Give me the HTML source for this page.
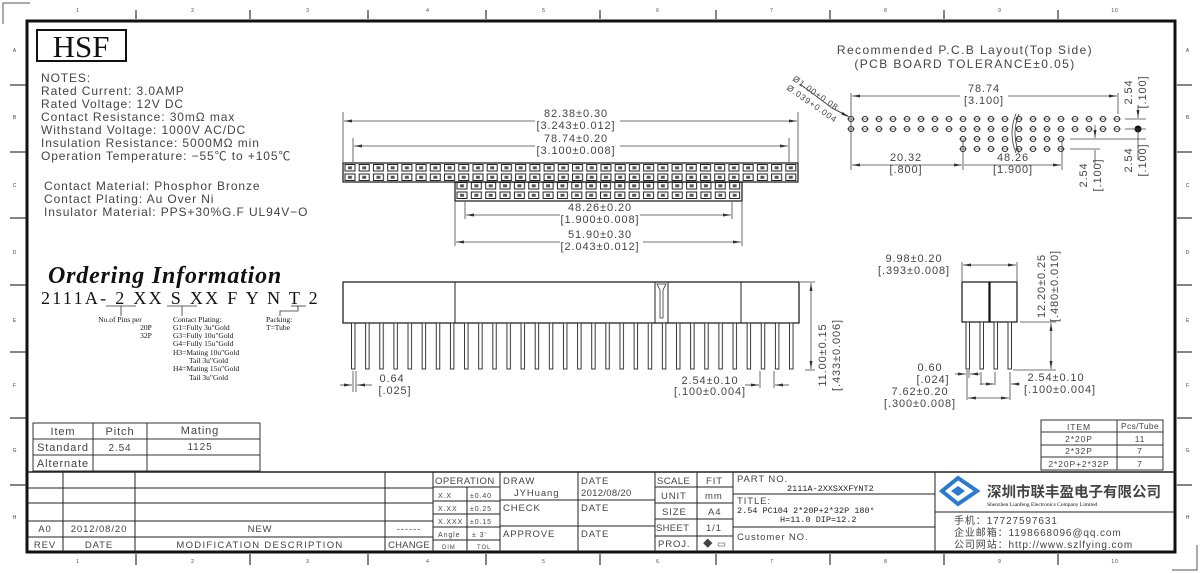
<!DOCTYPE html>
<html><head><meta charset="utf-8"><style>
html,body{margin:0;padding:0;background:#fff;}
svg{display:block;}
text{font-family:"Liberation Sans","Noto Sans CJK SC",sans-serif;fill:#444;letter-spacing:0.9px;}
.s{font-family:"Liberation Serif","Noto Serif CJK SC",serif;fill:#111;letter-spacing:0;}
.m{font-family:"Liberation Mono","Noto Sans CJK SC",monospace;fill:#222;letter-spacing:0;}
</style></head><body>
<svg width="1200" height="573" viewBox="0 0 1200 573" xmlns="http://www.w3.org/2000/svg">
<defs>
<pattern id="sq" x="343" y="163" width="14.22" height="9.5" patternUnits="userSpaceOnUse">
<rect x="2" y="1.5" width="10" height="6.5" fill="none" stroke="#222" stroke-width="1"/>
<rect x="5" y="3.3" width="4" height="3" fill="#555"/>
</pattern>
<pattern id="sq2" x="455" y="181" width="14.35" height="9.5" patternUnits="userSpaceOnUse">
<rect x="2" y="1.5" width="10" height="6.5" fill="none" stroke="#222" stroke-width="1"/>
<rect x="5" y="3.3" width="4" height="3" fill="#555"/>
</pattern>
<pattern id="pin" x="351" y="323" width="14.13" height="60" patternUnits="userSpaceOnUse">
<rect x="0.5" y="0" width="3.5" height="46" fill="#fff" stroke="#222" stroke-width="0.9"/>
</pattern>
<pattern id="hole" x="844" y="114" width="14" height="10" patternUnits="userSpaceOnUse">
<circle cx="7" cy="5" r="2.6" fill="none" stroke="#333" stroke-width="1"/>
<line x1="3" y1="5" x2="11" y2="5" stroke="#333" stroke-width="0.6"/>
</pattern>
<marker id="a" markerWidth="8" markerHeight="6" refX="8" refY="3" orient="auto-start-reverse" markerUnits="userSpaceOnUse"><path d="M0,1.5 L8,3 L0,4.5z" fill="#333"/></marker>
</defs>

<path d="M3,24 V3 H30 M1172,570 H1197 V545" fill="none" stroke="#555" stroke-width="1"/>
<rect x="27" y="21" width="1148" height="531" fill="none" stroke="#111" stroke-width="3"/>
<g stroke="#333" stroke-width="1.2">
<line x1="136" y1="10" x2="136" y2="19"/><line x1="250" y1="10" x2="250" y2="19"/><line x1="368" y1="10" x2="368" y2="19"/><line x1="486" y1="10" x2="486" y2="19"/><line x1="600" y1="10" x2="600" y2="19"/><line x1="716" y1="10" x2="716" y2="19"/><line x1="830" y1="10" x2="830" y2="19"/><line x1="944" y1="10" x2="944" y2="19"/><line x1="1058" y1="10" x2="1058" y2="19"/>
<line x1="136" y1="554" x2="136" y2="565"/><line x1="250" y1="554" x2="250" y2="565"/><line x1="368" y1="554" x2="368" y2="565"/><line x1="486" y1="554" x2="486" y2="565"/><line x1="600" y1="554" x2="600" y2="565"/><line x1="716" y1="554" x2="716" y2="565"/><line x1="830" y1="554" x2="830" y2="565"/><line x1="944" y1="554" x2="944" y2="565"/><line x1="1058" y1="554" x2="1058" y2="565"/>
<line x1="10" y1="85" x2="26" y2="85"/><line x1="10" y1="152" x2="26" y2="152"/><line x1="10" y1="218" x2="26" y2="218"/><line x1="10" y1="285" x2="26" y2="285"/><line x1="10" y1="352" x2="26" y2="352"/><line x1="10" y1="418" x2="26" y2="418"/><line x1="10" y1="485" x2="26" y2="485"/>
<line x1="1177" y1="85" x2="1192" y2="85"/><line x1="1177" y1="152" x2="1192" y2="152"/><line x1="1177" y1="218" x2="1192" y2="218"/><line x1="1177" y1="285" x2="1192" y2="285"/><line x1="1177" y1="352" x2="1192" y2="352"/><line x1="1177" y1="418" x2="1192" y2="418"/><line x1="1177" y1="485" x2="1192" y2="485"/>
</g>
<g font-size="5" text-anchor="middle">
<text x="78" y="12">1</text><text x="193" y="12">2</text><text x="308" y="12">3</text><text x="428" y="12">4</text><text x="544" y="12">5</text><text x="658" y="12">6</text><text x="772" y="12">7</text><text x="886" y="12">8</text><text x="1000" y="12">9</text><text x="1115" y="12">10</text>
<text x="78" y="563">1</text><text x="193" y="563">2</text><text x="308" y="563">3</text><text x="428" y="563">4</text><text x="544" y="563">5</text><text x="658" y="563">6</text><text x="772" y="563">7</text><text x="886" y="563">8</text><text x="1000" y="563">9</text><text x="1115" y="563">10</text>
<text x="15" y="52">A</text><text x="15" y="119">B</text><text x="15" y="187">C</text><text x="15" y="254">D</text><text x="15" y="322">E</text><text x="15" y="387">F</text><text x="15" y="452">G</text><text x="15" y="519">H</text>
<text x="1188" y="52">A</text><text x="1188" y="119">B</text><text x="1188" y="187">C</text><text x="1188" y="254">D</text><text x="1188" y="322">E</text><text x="1188" y="387">F</text><text x="1188" y="452">G</text><text x="1188" y="519">H</text>
</g>

<rect x="37" y="30" width="89" height="31" fill="none" stroke="#111" stroke-width="2"/>
<text class="s" x="81" y="57" font-size="31" text-anchor="middle">HSF</text>

<g font-size="12" fill="#444" style="letter-spacing:1.15px">
<text x="41" y="82">NOTES:</text>
<text x="41" y="95">Rated  Current: 3.0AMP</text>
<text x="41" y="108">Rated  Voltage: 12V  DC</text>
<text x="41" y="121">Contact  Resistance: 30mΩ  max</text>
<text x="41" y="134">Withstand  Voltage: 1000V  AC/DC</text>
<text x="41" y="147">Insulation  Resistance: 5000MΩ  min</text>
<text x="41" y="160">Operation  Temperature: −55℃  to  +105℃</text>
<text x="44" y="190">Contact  Material: Phosphor  Bronze</text>
<text x="44" y="203">Contact  Plating: Au  Over  Ni</text>
<text x="44" y="216">Insulator  Material: PPS+30%G.F  UL94V−O</text>
</g>

<text class="s" x="48" y="283" font-size="24" font-weight="bold" font-style="italic" style="letter-spacing:0.8px">Ordering Information</text>
<text class="s" x="41" y="304" font-size="18" style="letter-spacing:2.3px">2111A- 2  XX  S XX  F Y N  T 2</text>
<g stroke="#333" stroke-width="0.8" fill="none">
<line x1="106" y1="306" x2="136" y2="306"/><line x1="121" y1="306" x2="121" y2="316"/>
<line x1="167" y1="306" x2="197" y2="306"/><line x1="182" y1="306" x2="182" y2="316"/>
<line x1="291" y1="306" x2="306" y2="306"/><path d="M298,306 V311 H280 V316"/>
</g>
<g font-size="7.5">
<text x="120" y="322" text-anchor="middle" class="s">No.of Pins per</text>
<text x="146" y="330" text-anchor="middle" class="s">20P</text>
<text x="146" y="338" text-anchor="middle" class="s">32P</text>
<text x="173" y="322" class="s">Contact Plating:</text>
<text x="173" y="330" class="s">G1=Fully 3u"Gold</text>
<text x="173" y="338" class="s">G3=Fully 10u"Gold</text>
<text x="173" y="346" class="s">G4=Fully 15u"Gold</text>
<text x="173" y="355" class="s">H3=Mating 10u"Gold</text>
<text x="189" y="363" class="s">Tail 3u"Gold</text>
<text x="173" y="371" class="s">H4=Mating 15u"Gold</text>
<text x="189" y="380" class="s">Tail 3u"Gold</text>
<text x="266" y="322" class="s">Packing:</text>
<text x="266" y="330" class="s">T=Tube</text>
</g>

<g stroke="#333" stroke-width="1" fill="none">
<rect x="33" y="423" width="227" height="48"/>
<line x1="33" y1="439" x2="260" y2="439"/><line x1="33" y1="455" x2="260" y2="455"/>
<line x1="93" y1="423" x2="93" y2="471"/><line x1="147" y1="423" x2="147" y2="471"/>
</g>
<g font-size="11" text-anchor="middle">
<text x="63" y="435">Item</text><text x="120" y="435">Pitch</text><text x="200" y="434">Mating</text>
<text x="63" y="451">Standard</text><text x="120" y="451" font-size="10">2.54</text><text x="200" y="450" font-size="10">1125</text>
<text x="63" y="467">Alternate</text>
</g>

<rect x="343" y="163" width="455" height="19" fill="url(#sq)" stroke="#111" stroke-width="1.2"/>
<rect x="455" y="182" width="287" height="19" fill="url(#sq2)" stroke="#111" stroke-width="1.2"/>
<g stroke="#444" stroke-width="0.8" fill="none">
<line x1="343" y1="112" x2="343" y2="162"/><line x1="798" y1="112" x2="798" y2="162"/>
<line x1="353" y1="138" x2="353" y2="162"/><line x1="789" y1="138" x2="789" y2="162"/>
<line x1="465" y1="202" x2="465" y2="219"/><line x1="732" y1="202" x2="732" y2="219"/>
<line x1="455" y1="202" x2="455" y2="246"/><line x1="742" y1="202" x2="742" y2="246"/>
<line x1="344" y1="121" x2="535" y2="121" marker-start="url(#a)"/><line x1="620" y1="121" x2="797" y2="121" marker-end="url(#a)"/>
<line x1="354" y1="146" x2="535" y2="146" marker-start="url(#a)"/><line x1="620" y1="146" x2="788" y2="146" marker-end="url(#a)"/>
<line x1="466" y1="215" x2="560" y2="215" marker-start="url(#a)"/><line x1="640" y1="215" x2="731" y2="215" marker-end="url(#a)"/>
<line x1="456" y1="242" x2="560" y2="242" marker-start="url(#a)"/><line x1="643" y1="242" x2="741" y2="242" marker-end="url(#a)"/>
</g>
<g font-size="11" text-anchor="middle">
<text x="576" y="117">82.38±0.30</text><text x="576" y="129">[3.243±0.012]</text>
<text x="576" y="142">78.74±0.20</text><text x="576" y="154">[3.100±0.008]</text>
<text x="600" y="211">48.26±0.20</text><text x="600" y="223">[1.900±0.008]</text>
<text x="600" y="238">51.90±0.30</text><text x="600" y="250">[2.043±0.012]</text>
</g>

<rect x="343" y="282" width="456" height="41" fill="#fff" stroke="#111" stroke-width="1.2"/>
<g stroke="#222" stroke-width="1"><line x1="455" y1="282" x2="455" y2="323"/><line x1="655" y1="282" x2="655" y2="323"/><line x1="668" y1="282" x2="668" y2="323"/><line x1="741" y1="282" x2="741" y2="323"/></g>
<path d="M657,284 L666,284 L663,290 L663,318 L660,318 L660,290z" fill="none" stroke="#333" stroke-width="0.8"/>
<rect x="351" y="323" width="452" height="47" fill="url(#pin)"/>
<g stroke="#444" stroke-width="0.8" fill="none">
<line x1="353" y1="371" x2="353" y2="392"/><line x1="356" y1="371" x2="356" y2="392"/>
<line x1="340" y1="385" x2="352" y2="385" marker-end="url(#a)"/><line x1="357" y1="385" x2="372" y2="385" marker-start="url(#a)"/>
<line x1="760" y1="371" x2="760" y2="388"/><line x1="774" y1="371" x2="774" y2="388"/>
<line x1="745" y1="385" x2="759" y2="385" marker-end="url(#a)"/><line x1="775" y1="385" x2="789" y2="385" marker-start="url(#a)"/>
<line x1="800" y1="282" x2="815" y2="282"/><line x1="805" y1="370" x2="815" y2="370"/>
<line x1="811" y1="283" x2="811" y2="369" marker-start="url(#a)" marker-end="url(#a)"/>
</g>
<g font-size="11" text-anchor="middle">
<text x="392" y="382">0.64</text><text x="395" y="394">[.025]</text>
<text x="710" y="384">2.54±0.10</text><text x="710" y="395">[.100±0.004]</text>
<text transform="translate(826,355) rotate(-90)">11.00±0.15</text>
<text transform="translate(840,355) rotate(-90)">[.433±0.006]</text>
</g>

<rect x="962" y="282" width="27" height="40" fill="#fff" stroke="#111" stroke-width="1.2"/>
<rect x="990" y="282" width="27" height="40" fill="#fff" stroke="#111" stroke-width="1.2"/>
<g fill="#fff" stroke="#222" stroke-width="0.9">
<rect x="966" y="322" width="3.5" height="47"/><rect x="980" y="322" width="3.5" height="47"/><rect x="994" y="322" width="3.5" height="47"/><rect x="1008" y="322" width="3.5" height="47"/>
</g>
<g stroke="#444" stroke-width="0.8" fill="none">
<line x1="962" y1="262" x2="962" y2="281"/><line x1="1017" y1="262" x2="1017" y2="281"/>
<line x1="963" y1="265" x2="1016" y2="265" marker-start="url(#a)" marker-end="url(#a)"/>
<line x1="1020" y1="322" x2="1056" y2="322"/><line x1="1013" y1="370" x2="1056" y2="370"/>
<line x1="1051" y1="323" x2="1051" y2="369" marker-start="url(#a)" marker-end="url(#a)"/>
<line x1="967" y1="370" x2="967" y2="400"/><line x1="969" y1="370" x2="969" y2="378"/><line x1="1010" y1="372" x2="1010" y2="400"/>
<line x1="981" y1="372" x2="981" y2="385"/><line x1="995" y1="372" x2="995" y2="385"/>
<line x1="955" y1="374" x2="966" y2="374" marker-end="url(#a)"/><line x1="970" y1="374" x2="980" y2="374" marker-start="url(#a)"/>
<line x1="980" y1="384" x2="994" y2="384" marker-end="url(#a)"/><line x1="1011" y1="384" x2="1020" y2="384" marker-start="url(#a)"/>
<line x1="968" y1="398" x2="1009" y2="398" marker-start="url(#a)" marker-end="url(#a)"/>
</g>
<g font-size="11" text-anchor="middle">
<text x="914" y="262">9.98±0.20</text><text x="914" y="274">[.393±0.008]</text>
<text transform="translate(1045,286) rotate(-90)">12.20±0.25</text>
<text transform="translate(1058,286) rotate(-90)">[.480±0.010]</text>
<text x="930" y="371">0.60</text><text x="933" y="383">[.024]</text>
<text x="920" y="395">7.62±0.20</text><text x="920" y="407">[.300±0.008]</text>
<text x="1056" y="381">2.54±0.10</text><text x="1060" y="393">[.100±0.004]</text>
</g>

<g stroke="#333" stroke-width="1" fill="none">
<rect x="1041" y="420" width="122" height="50"/>
<line x1="1041" y1="432" x2="1163" y2="432"/><line x1="1041" y1="445" x2="1163" y2="445"/><line x1="1041" y1="457" x2="1163" y2="457"/>
<line x1="1117" y1="420" x2="1117" y2="470"/>
</g>
<g font-size="8.5" text-anchor="middle">
<text x="1079" y="430">ITEM</text><text x="1140" y="429" style="letter-spacing:0.3px">Pcs/Tube</text>
<text x="1079" y="442">2*20P</text><text x="1140" y="442">11</text>
<text x="1079" y="454">2*32P</text><text x="1140" y="454">7</text>
<text x="1079" y="467">2*20P+2*32P</text><text x="1140" y="467">7</text>
</g>

<text x="965" y="54" font-size="12" text-anchor="middle" style="letter-spacing:1.4px">Recommended  P.C.B  Layout(Top  Side)</text>
<text x="965" y="68" font-size="12" text-anchor="middle" style="letter-spacing:1.4px">(PCB  BOARD  TOLERANCE±0.05)</text>
<rect x="844" y="114" width="168" height="20" fill="url(#hole)"/>
<rect x="1013" y="114" width="112" height="20" fill="url(#hole)"/>
<rect x="956" y="134" width="56" height="20" fill="url(#hole)"/>
<rect x="1013" y="134" width="56" height="20" fill="url(#hole)"/>
<path d="M1016,114 Q1008,133 1016,153 M1019,114 Q1011,133 1019,153" fill="none" stroke="#333" stroke-width="0.8"/>
<circle cx="1138" cy="129" r="3.5" fill="#111"/>
<g stroke="#444" stroke-width="0.8" fill="none">
<line x1="851" y1="93" x2="851" y2="170"/><line x1="1118" y1="93" x2="1118" y2="114"/>
<line x1="852" y1="96" x2="960" y2="96" marker-start="url(#a)"/><line x1="1008" y1="96" x2="1117" y2="96" marker-end="url(#a)"/>
<line x1="963" y1="140" x2="963" y2="170"/><line x1="1062" y1="140" x2="1062" y2="170"/>
<line x1="852" y1="165" x2="962" y2="165" marker-start="url(#a)" marker-end="url(#a)"/>
<line x1="964" y1="165" x2="1061" y2="165" marker-end="url(#a)"/>
<line x1="1125" y1="119" x2="1146" y2="119"/><line x1="1125" y1="129" x2="1146" y2="129"/>
<line x1="1138" y1="105" x2="1138" y2="118" marker-end="url(#a)"/><line x1="1138" y1="130" x2="1138" y2="160"/>
<line x1="1070" y1="139" x2="1146" y2="139"/><line x1="1070" y1="149" x2="1100" y2="149"/>
<line x1="1095" y1="125" x2="1095" y2="138" marker-end="url(#a)"/><line x1="1095" y1="150" x2="1095" y2="165"/>
<path d="M848,116 L832,108 L800,84"/>
<line x1="832" y1="108" x2="849" y2="117" marker-end="url(#a)"/>
</g>
<g font-size="11" text-anchor="middle">
<text x="984" y="92">78.74</text><text x="984" y="104">[3.100]</text>
<text x="906" y="161">20.32</text><text x="906" y="173">[.800]</text>
<text x="1013" y="161">48.26</text><text x="1013" y="173">[1.900]</text>
<text transform="translate(1132,92) rotate(-90)">2.54</text><text transform="translate(1146,92) rotate(-90)">[.100]</text>
<text transform="translate(1132,160) rotate(-90)">2.54</text><text transform="translate(1146,160) rotate(-90)">[.100]</text>
<text transform="translate(1087,175) rotate(-90)">2.54</text><text transform="translate(1101,175) rotate(-90)">[.100]</text>
</g>
<g font-size="8.5">
<text transform="translate(792,80) rotate(35)">Ø1.00+0.08</text>
<text transform="translate(786,89) rotate(35)">Ø.039+0.004</text>
</g>

<g stroke="#222" stroke-width="1" fill="none">
<line x1="27" y1="472" x2="1175" y2="472" stroke-width="1.5"/>
<line x1="27" y1="488" x2="433" y2="488"/><line x1="27" y1="503" x2="433" y2="503"/><line x1="27" y1="521" x2="433" y2="521"/><line x1="27" y1="537" x2="433" y2="537"/>
<line x1="63" y1="472" x2="63" y2="552"/><line x1="135" y1="472" x2="135" y2="552"/><line x1="385" y1="472" x2="385" y2="552"/><line x1="433" y1="472" x2="433" y2="552"/>
<line x1="433" y1="487" x2="500" y2="487"/><line x1="433" y1="501" x2="500" y2="501"/><line x1="433" y1="514" x2="500" y2="514"/><line x1="433" y1="527" x2="500" y2="527"/><line x1="433" y1="540" x2="500" y2="540"/>
<line x1="467" y1="487" x2="467" y2="552"/><line x1="500" y1="472" x2="500" y2="552"/>
<line x1="500" y1="500" x2="655" y2="500"/><line x1="500" y1="526" x2="655" y2="526"/>
<line x1="578" y1="472" x2="578" y2="552"/><line x1="655" y1="472" x2="655" y2="552"/>
<line x1="655" y1="487" x2="733" y2="487"/><line x1="655" y1="503" x2="733" y2="503"/><line x1="655" y1="519" x2="733" y2="519"/><line x1="655" y1="536" x2="733" y2="536"/>
<line x1="697" y1="472" x2="697" y2="552"/><line x1="733" y1="472" x2="733" y2="552"/>
<line x1="733" y1="494" x2="935" y2="494"/><line x1="733" y1="527" x2="935" y2="527"/>
<line x1="935" y1="472" x2="935" y2="552"/><line x1="935" y1="512" x2="1175" y2="512"/>
</g>
<g font-size="9.5" fill="#333">
<text x="45" y="532" text-anchor="middle">A0</text><text x="99" y="532" text-anchor="middle">2012/08/20</text><text x="260" y="532" text-anchor="middle">NEW</text><text x="409" y="532" text-anchor="middle">------</text>
<text x="45" y="548" text-anchor="middle">REV</text><text x="99" y="548" text-anchor="middle">DATE</text><text x="260" y="548" text-anchor="middle" style="letter-spacing:1.3px">MODIFICATION  DESCRIPTION</text><text x="409" y="548" text-anchor="middle" style="letter-spacing:0.2px">CHANGE</text>
<text x="435" y="484" style="letter-spacing:0.5px">OPERATION</text>
<text x="438" y="498" font-size="7">X.X</text><text x="470" y="498" font-size="7">±0.40</text>
<text x="438" y="511" font-size="7">X.XX</text><text x="470" y="511" font-size="7">±0.25</text>
<text x="438" y="524" font-size="7">X.XXX</text><text x="470" y="524" font-size="7">±0.15</text>
<text x="438" y="537" font-size="7">Angle</text><text x="472" y="537" font-size="7">±  3'</text>
<text x="442" y="549" font-size="6">DIM</text><text x="477" y="549" font-size="6">TOL</text>
<text x="503" y="484">DRAW</text><text x="514" y="496" fill="#666">JYHuang</text>
<text x="503" y="511">CHECK</text><text x="503" y="537">APPROVE</text>
<text x="581" y="484">DATE</text><text x="581" y="496" fill="#666" style="letter-spacing:0.3px">2012/08/20</text>
<text x="581" y="511">DATE</text><text x="581" y="537">DATE</text>
<text x="657" y="484" style="letter-spacing:0.4px">SCALE</text><text x="706" y="484">FIT</text>
<text x="661" y="499">UNIT</text><text x="705" y="499">mm</text>
<text x="662" y="515">SIZE</text><text x="708" y="515">A4</text>
<text x="656" y="531" style="letter-spacing:0.3px">SHEET</text><text x="706" y="531">1/1</text>
<text x="658" y="547">PROJ.</text><text x="703" y="547">◆ ▭</text>
<text x="737" y="482">PART NO.</text>
<text x="737" y="504">TITLE:</text>
<text x="737" y="540">Customer  NO.</text>
</g>
<g font-size="8.5">
<text class="m" x="787" y="491">2111A-2XXSXXFYNT2</text>
<text class="m" x="737" y="513">2.54 PC104 2*20P+2*32P 180°</text>
<text class="m" x="780" y="522">H=11.0 DIP=12.2</text>
</g>
<path d="M942,491 L958,478 L977,491 L958,504z" fill="none" stroke="#2a7bd0" stroke-width="4"/>
<path d="M951,491 L958,486 L965,491 L958,496z" fill="#2a7bd0"/>
<text x="987" y="497" font-size="14.5" font-weight="bold" fill="#111" style="font-family:'Noto Sans CJK SC',sans-serif;letter-spacing:0">深圳市联丰盈电子有限公司</text>
<text x="987" y="506" font-size="5.5" fill="#333" class="s">Shenzhen Lianfeng Electronics Company Limited</text>
<g font-size="10" fill="#222" style="font-family:'Liberation Sans','Noto Sans CJK SC',sans-serif;letter-spacing:1px">
<text x="954" y="524">手机：17727597631</text>
<text x="954" y="536">企业邮箱：1198668096@qq.com</text>
<text x="954" y="548">公司网站：http://www.szlfying.com</text>
</g>
</svg>
</body></html>
